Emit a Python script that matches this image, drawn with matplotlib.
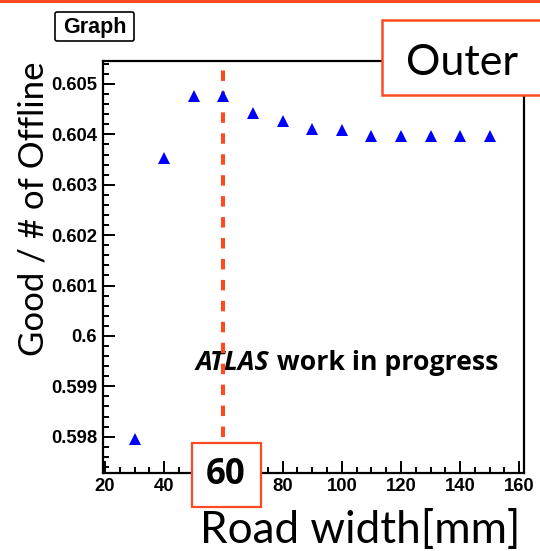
import numpy as np
import matplotlib
matplotlib.use("Agg")
import matplotlib.pyplot as plt
import matplotlib.patches as mpatches
import matplotlib.transforms as mtransforms
from matplotlib.ticker import MultipleLocator, FuncFormatter


W, H = 540, 551  # px
ORANGE = "#ff4a21"

# efficiency vs road width (outer station)
road_width = [30, 40, 50, 60, 70, 80, 90, 100, 110, 120, 130, 140, 150]
good_frac = [0.59795, 0.60353, 0.60477, 0.60476, 0.60443, 0.60427, 0.60410,
             0.60409, 0.60397, 0.60397, 0.60397, 0.60397, 0.60397]
chosen_width = 60
x_ticks = [20, 40, 60, 80, 100, 120, 140, 160]

fig = plt.figure(figsize=(W / 100, H / 100), dpi=100)
# pixel coords measured from the top-left corner
pix = mtransforms.Affine2D().scale(1 / W, -1 / H).translate(0, 1) + fig.transFigure

left, right, top, bottom = 102.7, 524.3, 61, 472.7
ax = fig.add_axes([left / W, 1 - bottom / H, (right - left) / W, (bottom - top) / H])

ax.plot(road_width, good_frac, "^", color="#0000ff", ms=8, mew=0, zorder=4)
ax.plot([chosen_width, chosen_width], [0.59800, 0.60546], color=ORANGE,
        lw=2.9, dashes=(2.6, 2.6), zorder=3)

ax.set_xlim(19.2, 161.7)
ax.set_ylim(0.597286, 0.605456)
# the 60 label sits under the tag box, so leave it blank
ax.set_xticks(x_ticks, ["" if t == chosen_width else str(t) for t in x_ticks])
ax.xaxis.set_minor_locator(MultipleLocator(5))
ax.yaxis.set_major_locator(MultipleLocator(0.001))
ax.yaxis.set_minor_locator(MultipleLocator(0.0002))
ax.yaxis.set_major_formatter(FuncFormatter(lambda v, p: f"{v:.3f}".rstrip("0")))
ax.tick_params(which="both", direction="in", top=False, right=False, width=1.4,
               labelsize=13.3, pad=4)
ax.tick_params(which="major", length=8.6)
ax.tick_params(which="minor", length=4.3)
for lab in ax.get_xticklabels() + ax.get_yticklabels():
    lab.set_fontfamily("Liberation Sans")
    lab.set_fontweight("bold")
for s in ax.spines.values():
    s.set_linewidth(1.6)

# ATLAS label (inside the axes so the dashed line goes over it)
atl = ax.text(196, 369.5, "ATLAS", transform=pix, fontfamily="Open Sans",
              fontsize=19.2, fontweight="bold", fontstyle="italic",
              va="baseline", zorder=2, clip_on=False)
ax.annotate(" work in progress", xy=(1, 0), xycoords=atl, fontfamily="Open Sans",
            fontsize=19.2, fontweight="bold", va="bottom", ha="left",
            annotation_clip=False, zorder=2)

# axis titles, right aligned like the ROOT default
fig.text(43.5, 61, "Good / # of Offline", transform=pix, fontfamily="Lato",
         fontsize=25, rotation=90, rotation_mode="anchor", ha="right", va="baseline")
fig.text(520, 543.3, "Road width[mm]", transform=pix, fontfamily="Lato",
         fontsize=31.8, ha="right", va="baseline")

# stripe across the top
fig.patches.append(mpatches.Rectangle((0, 0), W, 2.5, transform=pix, fc=ORANGE,
                                      ec="none", zorder=5))

# graph title box
fig.patches.append(mpatches.FancyBboxPatch((55, 12), 79, 29, transform=pix,
                                           boxstyle="round,pad=0,rounding_size=2",
                                           fc="white", ec="black", lw=1.2, zorder=5))
fig.text(94.5, 27, "Graph", transform=pix, fontfamily="Liberation Sans",
         fontweight="bold", fontsize=15.5, ha="center", va="center", zorder=6)

# station tag
fig.patches.append(mpatches.Rectangle((382, 19.5), 200, 75, transform=pix,
                                      fc="white", ec=ORANGE, lw=1.8, zorder=5))
fig.text(406, 75, "Outer", transform=pix, fontfamily="Lato", fontsize=31,
         va="baseline", zorder=6)

# chosen width tag
fig.patches.append(mpatches.Rectangle((192, 443), 69, 63.5, transform=pix,
                                      fc="white", ec=ORANGE, lw=1.6, zorder=5))
fig.text(225.5, 475, str(chosen_width), transform=pix, fontfamily="Open Sans",
         fontweight="bold", fontsize=25, ha="center", va="center", zorder=6)

fig.savefig("out.png", dpi=100)
